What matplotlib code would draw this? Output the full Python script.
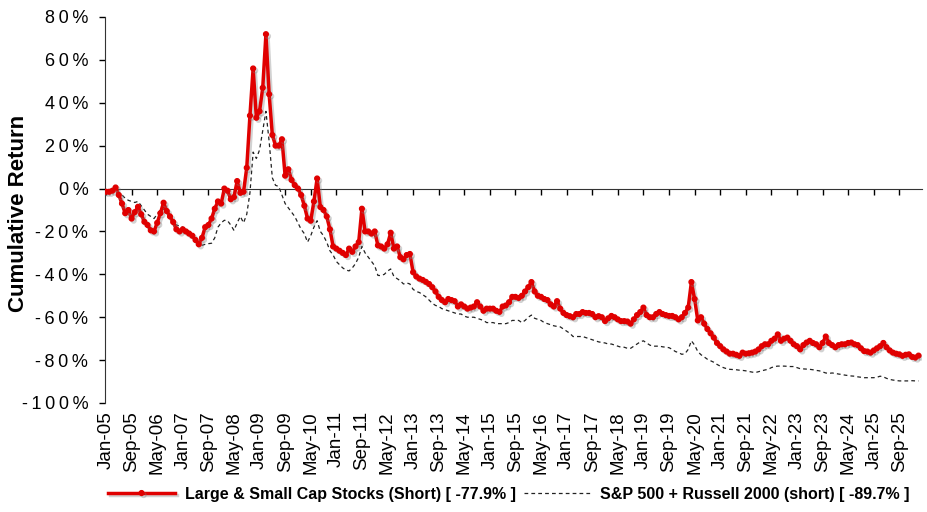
import numpy as np
import pandas as pd
import matplotlib
matplotlib.use("Agg")
from matplotlib import pyplot as plt
from matplotlib import patheffects as pe
from matplotlib.ticker import FuncFormatter

plt.rcParams['font.family'] = ['Liberation Sans', 'DejaVu Sans']

# monthly cumulative returns in %, Jan-05 .. Mar-26
short_stocks = [
    -1.5, -1.5, -1.0, 0.5, -3, -7, -11.5, -10, -14, -11, -8.5, -12,            # 2005
    -15.5, -17, -19.5, -20, -16, -11.5, -6.6, -10.5, -13, -15.6, -19, -20,     # 2006
    -19, -20, -21, -22, -24, -26, -23, -18, -17, -14, -9.4, -6,                # 2007
    -7, 0, -1, -5, -4, 3.5, -2, -1.5, 9.7, 34, 56, 33,                         # 2008
    36, 47, 72, 44, 25, 20, 20, 23, 6, 9, 4, 1.6,                              # 2009
    0, -3, -8, -14, -15, -6, 4.7, -8.6, -10, -13, -19, -27,                    # 2010
    -28, -29, -30, -31, -28, -29.5, -27, -25, -9.4, -20, -20, -21,             # 2011
    -20, -26.5, -27, -28, -26, -20.6, -28, -27, -32, -33, -31, -30.5,          # 2012
    -39, -41, -42, -42.6, -43.5, -44.5, -46, -48, -50.5, -52, -53, -51.5,      # 2013
    -52, -52.5, -55, -54, -55, -56, -55.5, -55, -53, -55, -57, -56,            # 2014
    -56, -56, -57, -57.5, -55, -54.5, -53, -50.5, -50.5, -51, -50, -48,        # 2015
    -46, -43.6, -48, -50, -50.5, -51.5, -52, -54, -55, -52.5, -56, -58,        # 2016
    -59, -59.5, -60, -58.5, -58.5, -57.6, -58, -58, -58.5, -60, -59.5, -60,    # 2017
    -61.8, -60.5, -59.4, -60, -61, -61.8, -61.8, -62, -63, -61, -59, -57.6,    # 2018
    -55.5, -59, -60, -60, -58.5, -57.6, -58.5, -59, -59.4, -59.4, -60, -61,    # 2019
    -60, -58, -55.5, -43.6, -51.5, -61.5, -60, -63, -65.5, -67.5, -69.5, -72,  # 2020
    -73.5, -75, -76, -77, -77, -77.5, -78, -76.5, -77, -76.8, -76.5, -76,      # 2021
    -75, -73.5, -72.6, -72.6, -71, -70, -68, -71, -70, -69.5, -71, -72.6,      # 2022
    -73.5, -75, -73, -71.8, -71, -72, -72.6, -74, -72, -69, -72, -73,          # 2023
    -74, -73, -72.6, -72.6, -72, -71.8, -72.6, -73, -74.5, -75.8, -76, -76.5,  # 2024
    -75.5, -74.5, -73.5, -72, -74, -75.5, -76.5, -77, -77.3, -78, -77.5, -77.3,  # 2025
    -78.5, -78.8, -77.9,                                                       # 2026
]

index_short = [
    -1, -0.5, 0, 0.5, -2, -3, -4.5, -5.5, -6, -6.5, -6, -8,
    -10, -12, -13, -14, -12, -10, -9.5, -11, -13, -16, -17, -17.5,
    -18, -19, -20, -22, -23.5, -25, -26.5, -26, -25.7, -25.5, -23, -18,
    -16, -14.8, -15, -17, -19.5, -16, -13, -16, -12, -2, 17, 14,
    18, 27, 36, 22, 5, 1.5, 1, -3, -7, -9, -11, -13,
    -16, -19, -21, -25, -22, -18, -15, -20, -22, -25, -29, -31,
    -34, -35.5, -37, -38, -38.4, -37, -35, -32, -27, -30, -32, -34,
    -36, -40.5, -40.6, -40, -38.5, -37.5, -41, -42, -43, -44.5, -44, -44.5,
    -47, -48, -48.5, -49.5, -50.5, -52, -53.5, -54.5, -55, -56, -56.5, -57,
    -57.5, -58, -58.5, -58.5, -59.5, -60, -60, -60, -60.5, -61, -61.5, -62.5,
    -62.5, -62.5, -63, -63, -63, -63, -62.5, -61.5, -61.5, -61.5, -62.5, -61.5,
    -60, -59, -60.5, -61, -61.5, -62.5, -63, -63.5, -64, -64.3, -64.5, -65.5,
    -66.5, -67.5, -69, -69, -69, -69, -69.5, -70, -70.5, -71, -71.5, -71.8,
    -72, -72.5, -72.5, -73, -73.5, -74, -74, -74.5, -74.5, -73.5, -72.5, -71.5,
    -71, -72, -73, -73.5, -73.5, -73.5, -73.8, -74, -74.2, -75, -76, -76.5,
    -77.3, -77, -75, -71, -73, -76, -77.5, -78.5, -79.6, -80.3, -81, -82,
    -82.8, -83.5, -84, -84.3, -84.4, -84.5, -84.7, -84.8, -85, -85.3, -85.6, -85.8,
    -85.4, -85, -84.6, -84.3, -83.5, -83, -82.8, -82.8, -82.8, -82.9, -83, -83,
    -83.5, -84, -84.1, -84.2, -84.3, -84.5, -84.8, -85, -85.5, -86, -86.2, -86,
    -86.2, -86.5, -86.7, -87, -87.2, -87.4, -87.5, -87.8, -88, -88.2, -88.2, -88.2,
    -88.2, -88, -87.5, -87.8, -88.5, -89, -89.3, -89.5, -89.7, -89.7, -89.7, -89.7,
    -89.6, -89.7, -89.7,
]

months = pd.date_range("2005-01-01", periods=len(short_stocks), freq="MS")
label_every = 8
red_label = "Large & Small Cap Stocks (Short) [ -77.9% ]"
black_label = "S&P 500 + Russell 2000 (short) [ -89.7% ]"


def spaced(s):
    # excel draws these labels with loose letter spacing
    return "\u2009".join(s)


fig = plt.figure(figsize=(9.27, 5.12), dpi=100)
ax = fig.add_axes([0.1133, 0.2129, 0.881, 0.7539])

x = np.arange(len(months))
ax.plot(x, index_short, color="#222222", lw=0.9, ls=(0, (3, 2.5)), label=black_label, zorder=2)
ax.plot(x, short_stocks, color="#e00000", lw=2.5, marker="o", ms=3.4, mec="#e00000",
        label=red_label, zorder=3,
        path_effects=[pe.SimpleLineShadow(offset=(1.5, -1.5), alpha=0.35, shadow_color="gray"), pe.Normal()])

ax.set_xlim(-0.3, 255)
ax.set_ylim(-100, 80)
ax.set_yticks(np.arange(-100, 81, 20))
ax.yaxis.set_major_formatter(FuncFormatter(lambda v, p: spaced("{:.0f}%".format(v))))
ax.tick_params(axis="y", direction="out", length=4, width=1, labelsize=13, pad=8)
ax.set_ylabel("Cumulative Return", fontsize=16, fontweight="bold")
ax.yaxis.set_label_coords(-0.093, 0.49)

# category axis crosses at zero, labels stay at the bottom
ax.spines["top"].set_visible(False)
ax.spines["right"].set_visible(False)
ax.spines["bottom"].set_position(("data", 0))
ax.spines["bottom"].set_color("#333333")
ax.spines["left"].set_color("#333333")
ticks = x[::label_every]
ax.set_xticks(ticks)
ax.tick_params(axis="x", direction="out", length=4, width=1, labelbottom=False)

sec = ax.secondary_xaxis("bottom")
sec.set_xticks(ticks)
sec.set_xticklabels([d.strftime("%b-%y") for d in months[::label_every]], rotation=90, fontsize=13.5)
sec.tick_params(length=0, pad=6)
sec.spines["bottom"].set_visible(False)

handles, labels = ax.get_legend_handles_labels()
fig.legend(handles[::-1], labels[::-1], loc="center", bbox_to_anchor=(0.549, 0.035), ncol=2,
           frameon=False, handlelength=4.2, columnspacing=0.5, handletextpad=0.6,
           prop={"size": 11.5, "weight": "bold"})

fig.savefig("out.png", dpi=100)
